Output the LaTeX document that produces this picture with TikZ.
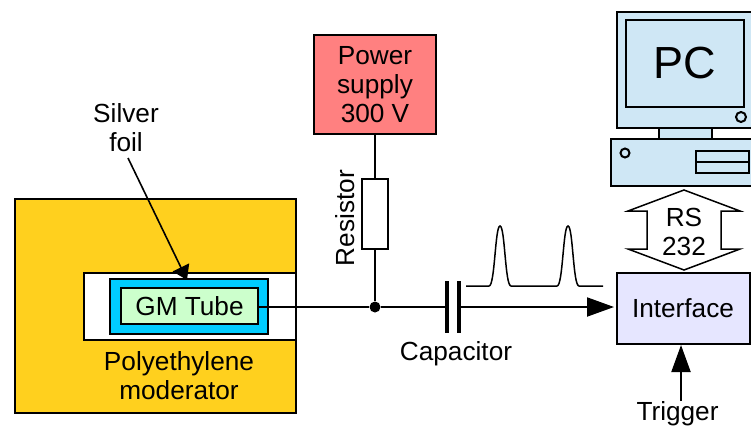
\documentclass[tikz,border=0pt]{standalone}
\usepackage{fontspec}
\setmainfont{Liberation Sans}
\usetikzlibrary{arrows.meta,calc}
\definecolor{modyellow}{RGB}{255,208,30}
\definecolor{tubeblue}{RGB}{0,204,255}
\definecolor{tubegreen}{RGB}{204,255,204}
\definecolor{supplyred}{RGB}{255,128,128}
\definecolor{pcblue}{RGB}{207,231,245}
\definecolor{ifviolet}{RGB}{230,230,255}
\tikzset{
  block/.style ={rectangle, draw=black, line width=2pt, inner sep=0pt, outer sep=0pt,
                 align=center, font=\fontsize{26.2}{29.2}\selectfont},
  part/.style  ={block, fill=pcblue},
  lbl/.style   ={align=center, inner sep=0pt, font=\fontsize{26.2}{29.2}\selectfont},
  wire/.style  ={draw=black, line width=2pt},
  ar/.style    ={wire, -{Triangle[length=27pt,width=19pt]}},
  arfoil/.style={draw=black, line width=1.6pt, -{Triangle[length=14pt,width=18pt]}},
  plate/.style ={draw=black, line width=4pt}
}
\begin{document}
\begin{tikzpicture}[x=1pt,y=-1pt]
\useasboundingbox (0,0) rectangle (751,429);
% detector
\node[block, fill=modyellow, minimum width=281pt, minimum height=214pt] (moderator) at (155.5,306) {};
\node[block, fill=white, minimum width=212.5pt, minimum height=66.5pt] (cavity) at (189.75,306.25) {};
\node[block, fill=tubeblue, minimum width=157.5pt, minimum height=55pt] (foil) at (188.75,306.5) {};
\node[block, fill=tubegreen, minimum width=137pt, minimum height=36pt] (tube) at (189.5,306) {GM Tube};
\node[lbl] (modlbl) at (179,376) {Polyethylene\\moderator};
\node[lbl] (foillbl) at (126,128) {Silver\\foil};
\coordinate (foilstart) at (128,158);
\coordinate (foiltip) at (187,280);
\draw[arfoil] (foilstart) -- (foiltip);
% bias branch
\node[block, fill=supplyred, minimum width=122pt, minimum height=99pt] (supply) at (375,84.5) {Power\\supply\\300 V};
\node[block, fill=white, minimum width=26pt, minimum height=70pt] (resistor) at (375,214) {};
\node[lbl, rotate=90] (reslbl) at (345,218) {Resistor};
\node[circle, fill=black, minimum size=11pt, inner sep=0pt] (junction) at (375,307) {};
\draw[wire] (supply) -- (resistor);
\draw[wire] (resistor) -- (junction);
% signal line
\node[block, fill=ifviolet, minimum width=133pt, minimum height=71pt] (interface) at (683,308.5) {Interface};
\coordinate (plateL) at (447,307);
\coordinate (plateR) at (459,307);
\coordinate (sigtip) at (614,307);
\draw[wire] (tube.east |- junction) -- (junction) -- (plateL);
\draw[ar] (plateR) -- (sigtip);
\draw[plate] ($(plateL)+(0,-26)$) -- ($(plateL)+(0,26)$);
\draw[plate] ($(plateR)+(0,-26)$) -- ($(plateR)+(0,26)$);
\node[lbl] (caplbl) at (456,354) {Capacitor};
% pulses
\draw[line width=1.5pt] (466,286) -- (489,286)
  .. controls (495,286) and (495,226) .. (500,226)
  .. controls (505,226) and (505,286) .. (511,286) -- (557,286)
  .. controls (563,286) and (563,226) .. (568,226)
  .. controls (573,226) and (573,286) .. (579,286) -- (603,286);
% trigger
\node[lbl] (triglbl) at (677.5,414) {Trigger};
\coordinate (trigstart) at (681,401);
\coordinate (trigtip) at (681,345);
\draw[ar] (trigstart) -- (trigtip);
% RS 232 link
\draw[fill=white, line width=1.5pt] (684,190) -- (740,211) -- (721,211) -- (721,249)
  -- (740,249) -- (684,270) -- (628,249) -- (647,249) -- (647,211) -- (628,211) -- cycle;
\node[lbl] (rslbl) at (684,232) {RS\\232};
% computer
\begin{scope}
\clip (0,0) rectangle (751,429);
\node[part, minimum width=153pt, minimum height=116pt] (monitor) at (693.5,70) {};
\node[part, minimum width=118pt, minimum height=87pt, font=\fontsize{45}{45}\selectfont] (screen) at (685,63.5) {PC};
\node[part, circle, minimum size=10pt] (knob) at (741,117) {};
\node[part, minimum width=53pt, minimum height=11pt] (neck) at (685.5,133.5) {};
\node[part, minimum width=160pt, minimum height=47pt] (base) at (691,162.5) {};
\node[part, circle, minimum size=9pt] (led) at (625,153) {};
\node[part, minimum width=53pt, minimum height=11pt] (driveA) at (722.5,156.5) {};
\node[part, minimum width=53pt, minimum height=11pt] (driveB) at (722.5,167.5) {};
\end{scope}
\end{tikzpicture}
\end{document}
